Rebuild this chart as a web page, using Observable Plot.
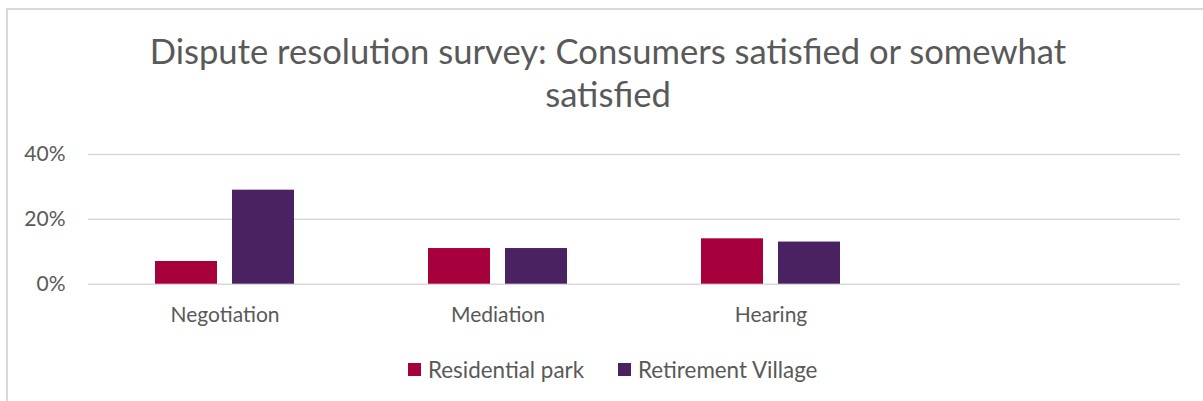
<!DOCTYPE html>
<html><head><meta charset="utf-8">
<script src="https://cdn.jsdelivr.net/npm/d3@7"></script>
<script src="https://cdn.jsdelivr.net/npm/@observablehq/plot@0.6"></script>
<style>
body{margin:0;background:#fff;width:1203px;height:401px;overflow:hidden;position:relative;}
#frame{position:absolute;left:6px;top:8px;width:1300px;height:500px;border-left:2px solid #d9d9d9;border-top:2px solid #d9d9d9;box-sizing:border-box;}
#title{position:absolute;left:0;top:30.3px;width:1216px;text-align:center;font-family:Lato,sans-serif;font-size:34.6px;line-height:42.3px;color:#595959;}
#chart{position:absolute;left:0;top:130px;}
#legend{position:absolute;left:408px;top:356px;height:27px;display:flex;align-items:center;font-family:Lato,sans-serif;font-size:22.4px;color:#595959;}
.item{display:flex;align-items:center;margin-right:34px;}
.sw{width:13px;height:13px;margin-right:7px;}
</style></head>
<body>
<div id="frame"></div>
<div id="title">Dispute resolution survey: Consumers satisfied or somewhat<br>satisfied</div>
<div id="chart"></div>
<div id="legend"></div>
<script>
const categories = ["Negotiation", "Mediation", "Hearing", ""];
const series = ["Residential park", "Retirement Village"];
const residential = [0.07, 0.11, 0.14];
const retirement = [0.29, 0.11, 0.13];
const colors = ["#A6003D", "#4A2262"];
const yTicks = [0, 0.2, 0.4];

const data = [];
categories.slice(0, 3).forEach((c, i) => {
  data.push({category: c, series: series[0], value: residential[i]});
  data.push({category: c, series: series[1], value: retirement[i]});
});
const gridData = categories.flatMap(c => yTicks.map(t => ({category: c, tick: t})));

const chart = Plot.plot({
  width: 1203, height: 210,
  marginLeft: 88, marginRight: 23, marginTop: 24, marginBottom: 56.3,
  style: {fontFamily: "Lato, sans-serif", fontSize: "21px", color: "#595959", background: "transparent", overflow: "visible"},
  fx: {domain: categories, padding: 0, axis: "bottom", tickSize: 0, tickPadding: 23, label: null},
  x: {domain: series, paddingInner: 0.2, paddingOuter: 0.86, axis: null},
  y: {domain: [0, 0.4], ticks: yTicks, tickFormat: d3.format(".0%"), tickSize: 0, tickPadding: 23, label: null},
  color: {domain: series, range: colors},
  marks: [
    Plot.ruleY(gridData, {fx: "category", y: "tick", stroke: "#d9d9d9", strokeWidth: 1.5}),
    Plot.barY(data, {fx: "category", x: "series", y: "value", fill: "series"})
  ]
});
document.getElementById("chart").appendChild(chart);

const legend = document.getElementById("legend");
series.forEach((s, i) => {
  const item = document.createElement("div");
  item.className = "item";
  const sw = document.createElement("div");
  sw.className = "sw";
  sw.style.background = colors[i];
  const t = document.createElement("span");
  t.textContent = s;
  item.appendChild(sw); item.appendChild(t);
  legend.appendChild(item);
});
</script>
</body></html>
